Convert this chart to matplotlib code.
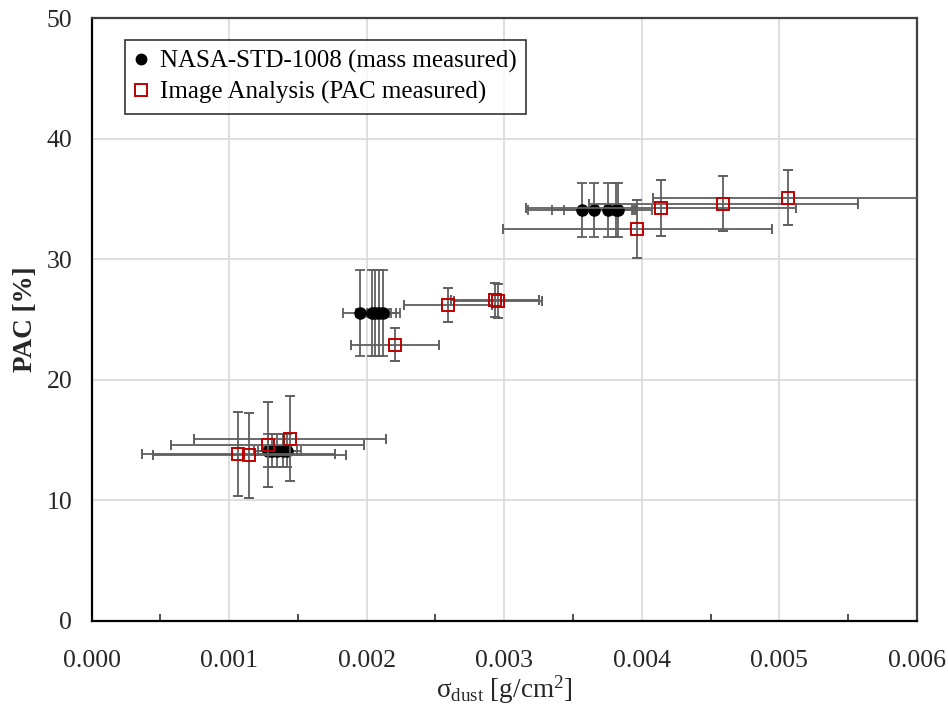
import matplotlib
matplotlib.use("Agg")
import matplotlib.pyplot as plt
from matplotlib.lines import Line2D
from matplotlib.ticker import MultipleLocator, FormatStrFormatter

plt.rcParams['font.family'] = ['Liberation Serif', 'DejaVu Serif']
plt.rcParams['mathtext.fontset'] = 'custom'
plt.rcParams['mathtext.rm'] = 'Liberation Serif'
plt.rcParams['mathtext.it'] = 'Liberation Serif:italic'

# NASA-STD-1008 (mass measured)
nasa_x = [0.00128, 0.00131, 0.00135, 0.00139, 0.00142,
          0.00195, 0.00204, 0.00206, 0.00209, 0.00212,
          0.003565, 0.00365, 0.003755, 0.00381, 0.00383]
nasa_y = [14.1, 14.1, 14.1, 14.1, 14.1,
          25.5, 25.5, 25.5, 25.5, 25.5,
          34.05, 34.05, 34.05, 34.05, 34.05]
nasa_xerr = [0.0001, 0.0001, 0.0001, 0.0001, 0.0001,
             0.00012, 0.00012, 0.00012, 0.00012, 0.00012,
             0.000395, 0.0003, 0.00032, 0.00013, 0.0001]
nasa_yerr = [1.4, 1.4, 1.4, 1.4, 1.4,
             3.55, 3.55, 3.55, 3.55, 3.55,
             2.25, 2.25, 2.25, 2.25, 2.25]

# Image Analysis (PAC measured)
ia_x = [0.001067, 0.001147, 0.001281, 0.001443,
        0.002204, 0.00259, 0.002934, 0.002958,
        0.003969, 0.004139, 0.004594, 0.005063]
ia_y = [13.8, 13.7, 14.6, 15.1,
        22.9, 26.2, 26.6, 26.5,
        32.5, 34.25, 34.6, 35.1]
ia_xerr = [0.0007, 0.0007, 0.0007, 0.0007,
           0.00032, 0.00032, 0.00032, 0.00032,
           0.00098, 0.00098, 0.00098, 0.00098]
ia_yerr = [3.5, 3.5, 3.5, 3.5,
           1.4, 1.4, 1.4, 1.4,
           2.4, 2.3, 2.28, 2.28]

labels = ['NASA-STD-1008 (mass measured)', 'Image Analysis (PAC measured)']

fig = plt.figure(figsize=(9.48, 7.09), dpi=100)
ax = fig.add_axes([0.0966, 0.1248, 0.8705, 0.8498])

err_kw = dict(ecolor='#5f5f5f', elinewidth=1.3, capsize=3.5, capthick=1.3, linestyle='none')

ax.errorbar(nasa_x, nasa_y, xerr=nasa_xerr, yerr=nasa_yerr, fmt='o',
            color='black', markersize=8, zorder=3, **err_kw)
ax.errorbar(ia_x, ia_y, xerr=ia_xerr, yerr=ia_yerr, fmt='s',
            markerfacecolor='none', markeredgecolor='#c00000', markeredgewidth=1.4,
            markersize=8.3, zorder=4, **err_kw)

ax.set_xlim(0, 0.006)
ax.set_ylim(0, 50)
ax.xaxis.set_major_locator(MultipleLocator(0.001))
ax.xaxis.set_minor_locator(MultipleLocator(0.0005))
ax.xaxis.set_major_formatter(FormatStrFormatter('%.3f'))
ax.yaxis.set_major_locator(MultipleLocator(10))

ax.grid(True, which='major', color='#d9d9d9', linewidth=1.2)
ax.set_axisbelow(True)

ax.tick_params(axis='both', which='major', length=0, labelsize=18.5, colors='#262626')
ax.tick_params(axis='x', which='major', pad=21)
ax.tick_params(axis='y', which='major', pad=14)
ax.tick_params(axis='x', which='minor', direction='in', length=5, width=1.3, color='#404040')
ax.tick_params(axis='y', which='minor', length=0)

for side in ('left', 'bottom'):
    ax.spines[side].set_color('black')
    ax.spines[side].set_linewidth(1.6)
for side in ('top', 'right'):
    ax.spines[side].set_color('#404040')
    ax.spines[side].set_linewidth(1.6)

ax.set_xlabel(r'$\mathrm{\sigma_{dust}}$ [g/cm$^{2}$]', fontsize=19.5, color='#262626', labelpad=1)
ax.set_ylabel('PAC [%]', fontsize=19.5, fontweight='bold', color='#262626', labelpad=6)

handles = [
    Line2D([], [], marker='o', linestyle='none', color='black', markersize=7.5),
    Line2D([], [], marker='s', linestyle='none', markerfacecolor='none',
           markeredgecolor='#c00000', markeredgewidth=1.4, markersize=8),
]
leg = ax.legend(handles, labels, loc='upper left', bbox_to_anchor=(0.04, 0.9635),
                borderaxespad=0, fontsize=18, frameon=True, fancybox=False,
                edgecolor='black', handlelength=0.55, handletextpad=0.45,
                borderpad=0.4, labelspacing=0.33)
leg.get_frame().set_linewidth(1.2)

fig.savefig('out.png', dpi=100, facecolor='white')
